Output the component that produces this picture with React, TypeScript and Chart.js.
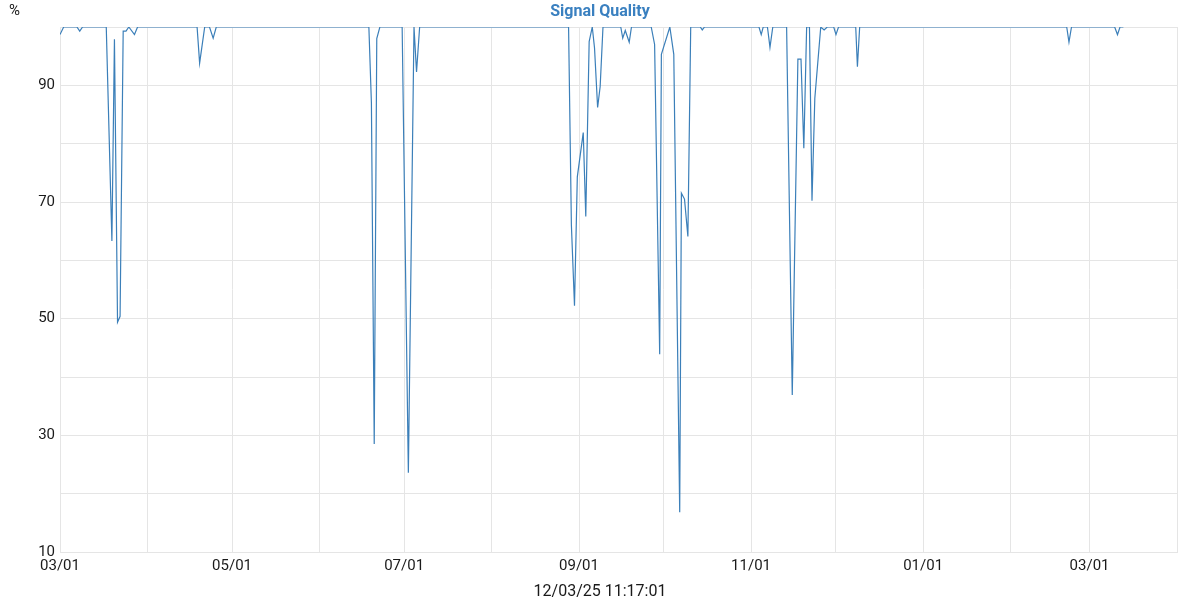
import { useEffect, useRef } from "react";
import { Chart, registerables } from "chart.js";

Chart.register(...registerables);

// Day offsets from 2024-03-01 at which the signal was sampled (vertices of the trace)
const sampleDays = [
  0, 1.3, 6, 7, 8, 16.4, 18.4, 19.3, 20.4, 21.3, 22.4, 23.4, 24.4, 26.4, 27.5,
  48.6, 49.5, 51.3, 53, 54.3, 55.4,
  109.5, 110.4, 111.4, 112.3, 113.4, 121.3, 123.5, 125.5, 126.4, 127.5,
  180.3, 181.3, 182.4, 183.4, 185.5, 186.4, 187.6, 188.7, 189.5, 190.6, 191.5, 192.5,
  198.8, 199.5, 200.4, 201.8, 202.6,
  209.6, 210.8, 212.6, 213.2, 216.2, 217.6, 219.7, 220.3, 221.4, 222.6, 223.6,
  227, 227.7, 228.5,
  247.8, 248.6, 249.3, 250.8, 251.7, 252.7,
  257.6, 259.6, 261.6, 262.7, 263.7, 264.7, 265.7, 266.6, 267.6, 269.7, 270.9, 272,
  274.3, 275.1, 276, 282.1, 282.7, 283.5,
  356.9, 357.7, 358.6, 373.9, 374.9, 375.8, 377,
];

// Signal quality (%) at each sample
const signalValues = [
  98.7, 100, 100, 99.3, 100, 100, 63.3, 97.9, 49.4, 50.4, 99.3, 99.3, 100, 98.7, 100,
  100, 93.8, 100, 100, 98.1, 100,
  100, 87, 28.5, 98, 100, 100, 23.6, 100, 92.3, 100,
  100, 66, 52.2, 74.3, 81.9, 67.5, 97.5, 100, 96.4, 86.2, 89.8, 100,
  100, 98.1, 99.4, 97.4, 100,
  100, 97, 43.9, 95.3, 100, 95.3, 16.8, 71.5, 70.5, 64.1, 100,
  100, 99.5, 100,
  100, 98.7, 100, 100, 96.5, 100,
  100, 36.9, 94.5, 94.5, 79.2, 100, 100, 70.2, 87.8, 100, 99.5, 100,
  100, 98.7, 100, 100, 93.2, 100,
  100, 97.4, 100, 100, 98.7, 100, 100,
];

// Month boundaries (days from 2024-03-01) and their labels
const monthTickDays = [0, 31, 61, 92, 122, 153, 184, 214, 245, 275, 306, 337, 365, 396];
const monthTickLabels = ["03/01", "", "05/01", "", "07/01", "", "09/01", "", "11/01", "", "01/01", "", "03/01", ""];

const yLabelValues = [10, 30, 50, 70, 90];
const chartTitle = "Signal Quality";
const xAxisTitle = "12/03/25 11:17:01";
const yUnit = "%";

const FONT = "Roboto";
const LINE_COLOR = "#3b7fb9";
const TITLE_COLOR = "#3a80c0";
const GRID_COLOR = "#e5e5e5";
const TEXT_COLOR = "#1a1a1a";

const textPlugin = {
  id: "extraText",
  afterDraw(chart: any) {
    const ctx = chart.ctx;
    ctx.save();
    ctx.textBaseline = "middle";
    ctx.fillStyle = TITLE_COLOR;
    ctx.font = `bold 16px ${FONT}`;
    ctx.textAlign = "center";
    ctx.fillText(chartTitle, chart.width / 2, 12);
    ctx.fillStyle = TEXT_COLOR;
    ctx.font = `15px ${FONT}`;
    ctx.textAlign = "left";
    ctx.fillText(yUnit, 9, 11);
    ctx.font = `16px ${FONT}`;
    ctx.textAlign = "center";
    ctx.fillText(xAxisTitle, chart.width / 2, 592);
    ctx.restore();
  },
};

export default function App() {
  const ref = useRef<HTMLCanvasElement | null>(null);

  useEffect(() => {
    if (!ref.current) return;
    const points = sampleDays.map((d, i) => ({ x: d, y: signalValues[i] }));
    const chart = new Chart(ref.current, {
      type: "line",
      data: {
        datasets: [
          {
            label: chartTitle,
            data: points,
            borderColor: LINE_COLOR,
            backgroundColor: LINE_COLOR,
            borderWidth: 1.2,
            pointRadius: 0,
            tension: 0,
            fill: false,
          },
        ],
      },
      options: {
        animation: false,
        responsive: true,
        maintainAspectRatio: false,
        layout: { padding: { left: 8, right: 23, top: 27, bottom: 0 } },
        plugins: {
          legend: { display: false },
          tooltip: { enabled: false },
          title: { display: false },
        },
        scales: {
          x: {
            type: "linear",
            min: 0,
            max: 396,
            afterBuildTicks: (scale: any) => {
              scale.ticks = monthTickDays.map((v) => ({ value: v }));
            },
            afterFit: (scale: any) => {
              scale.height = 48;
            },
            ticks: {
              autoSkip: false,
              maxRotation: 0,
              padding: 5,
              color: TEXT_COLOR,
              font: { family: FONT, size: 15 },
              callback: (value: any) => {
                const i = monthTickDays.indexOf(Number(value));
                return i >= 0 ? monthTickLabels[i] : "";
              },
            },
            grid: { color: GRID_COLOR, drawTicks: false, lineWidth: 1 },
            border: { color: GRID_COLOR },
          },
          y: {
            type: "linear",
            min: 10,
            max: 100,
            afterFit: (scale: any) => {
              scale.width = 52;
            },
            ticks: {
              stepSize: 10,
              padding: 5,
              color: TEXT_COLOR,
              font: { family: FONT, size: 15 },
              callback: (value: any) => (yLabelValues.includes(Number(value)) ? String(value) : ""),
            },
            grid: { color: GRID_COLOR, drawTicks: false, lineWidth: 1 },
            border: { color: GRID_COLOR },
          },
        },
      },
      plugins: [textPlugin],
    });
    return () => chart.destroy();
  }, []);

  return (
    <div style={{ position: "fixed", left: 0, top: 0, width: 1200, height: 600, background: "#fff" }}>
      <canvas ref={ref} />
    </div>
  );
}
